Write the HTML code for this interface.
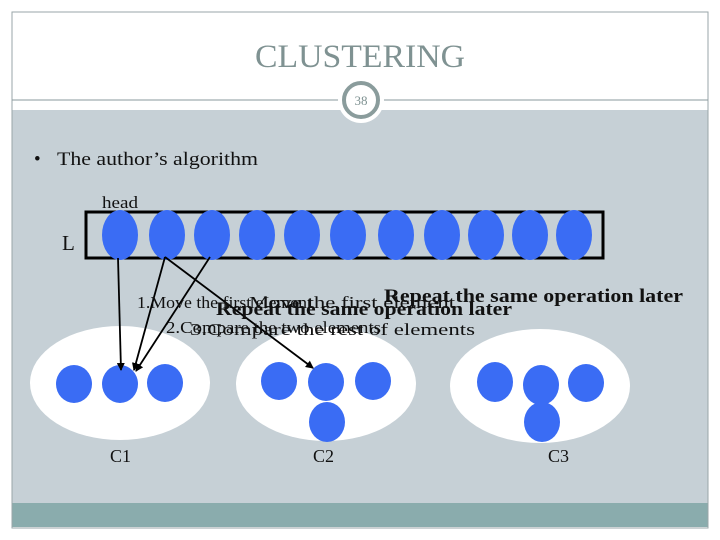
<!DOCTYPE html>
<html><head><style>
body{margin:0;width:720px;height:540px;background:#fff;overflow:hidden}
svg{display:block}
text{font-family:"Liberation Serif",serif}
</style></head><body>
<svg width="720" height="540" viewBox="0 0 720 540">
<rect x="12" y="12" width="696" height="516" fill="#fff" stroke="#9aa6a8"/>
<rect x="12.5" y="110" width="695" height="394" fill="#c6d0d6"/>
<rect x="12.5" y="503" width="695" height="24" fill="#8aacad"/>
<line x1="12" y1="100" x2="708" y2="100" stroke="#8a9a9c" stroke-width="1"/>
<circle cx="361" cy="100" r="23" fill="#fff"/>
<circle cx="361" cy="100" r="17" fill="#fff" stroke="#8a9c9c" stroke-width="4"/>
<text x="361" y="105" font-size="13" fill="#7f9292" text-anchor="middle">38</text>
<text x="255" y="67" font-size="33" fill="#7f9292" textLength="210" lengthAdjust="spacingAndGlyphs">CLUSTERING</text>
<text x="34" y="165" font-size="19" fill="#111">•</text>
<text x="57" y="165" font-size="19" fill="#111" textLength="201" lengthAdjust="spacingAndGlyphs">The author’s algorithm</text>
<text x="102" y="208" font-size="17" fill="#111" textLength="36" lengthAdjust="spacingAndGlyphs">head</text>
<text x="62" y="250" font-size="21" fill="#111">L</text>
<rect x="86" y="212" width="517" height="46" fill="none" stroke="#000" stroke-width="3"/>
<g fill="#3a6cf4">
<ellipse cx="120" cy="235" rx="18" ry="25"/><ellipse cx="167" cy="235" rx="18" ry="25"/>
<ellipse cx="212" cy="235" rx="18" ry="25"/><ellipse cx="257" cy="235" rx="18" ry="25"/>
<ellipse cx="302" cy="235" rx="18" ry="25"/><ellipse cx="348" cy="235" rx="18" ry="25"/>
<ellipse cx="396" cy="235" rx="18" ry="25"/><ellipse cx="442" cy="235" rx="18" ry="25"/>
<ellipse cx="486" cy="235" rx="18" ry="25"/><ellipse cx="530" cy="235" rx="18" ry="25"/>
<ellipse cx="574" cy="235" rx="18" ry="25"/>
</g>
<g fill="#fff">
<ellipse cx="120" cy="383" rx="90" ry="57"/>
<ellipse cx="326" cy="384" rx="90" ry="57"/>
<ellipse cx="540" cy="386" rx="90" ry="57"/>
</g>
<g fill="#3a6cf4">
<ellipse cx="74" cy="384" rx="18" ry="19"/><ellipse cx="120" cy="384" rx="18" ry="19"/><ellipse cx="165" cy="383" rx="18" ry="19"/>
<ellipse cx="279" cy="381" rx="18" ry="19"/><ellipse cx="326" cy="382" rx="18" ry="19"/><ellipse cx="373" cy="381" rx="18" ry="19"/><ellipse cx="327" cy="422" rx="18" ry="20"/>
<ellipse cx="495" cy="382" rx="18" ry="20"/><ellipse cx="541" cy="385" rx="18" ry="20"/><ellipse cx="586" cy="383" rx="18" ry="19"/><ellipse cx="542" cy="422" rx="18" ry="20"/>
</g>
<defs><marker id="a" markerWidth="8" markerHeight="8" refX="7" refY="4" orient="auto" markerUnits="userSpaceOnUse"><path d="M0,0L8,4L0,8z" fill="#000"/></marker></defs>
<g stroke="#000" stroke-width="1.8" marker-end="url(#a)">
<line x1="118" y1="258" x2="121" y2="370"/>
<line x1="165" y1="257" x2="134" y2="370"/>
<line x1="210" y1="257" x2="136" y2="371"/>
<line x1="165" y1="257" x2="313" y2="368"/>
</g>
<g fill="#111">
<text x="137" y="308" font-size="17" textLength="175" lengthAdjust="spacingAndGlyphs">1.Move the first element</text>
<text x="249" y="308" font-size="17" textLength="206" lengthAdjust="spacingAndGlyphs">Move the first element</text>
<text x="216" y="315" font-size="19" font-weight="bold" textLength="296" lengthAdjust="spacingAndGlyphs">Repeat the same operation later</text>
<text x="384" y="302" font-size="19" font-weight="bold" textLength="299" lengthAdjust="spacingAndGlyphs">Repeat the same operation later</text>
<text x="166" y="333" font-size="17" textLength="215" lengthAdjust="spacingAndGlyphs">2.Compare the two elements</text>
<text x="190" y="335" font-size="17" textLength="285" lengthAdjust="spacingAndGlyphs">3.Compare the rest of elements</text>
<text x="110" y="462" font-size="18">C1</text>
<text x="313" y="462" font-size="18">C2</text>
<text x="548" y="462" font-size="18">C3</text>
</g>
</svg>
</body></html>
